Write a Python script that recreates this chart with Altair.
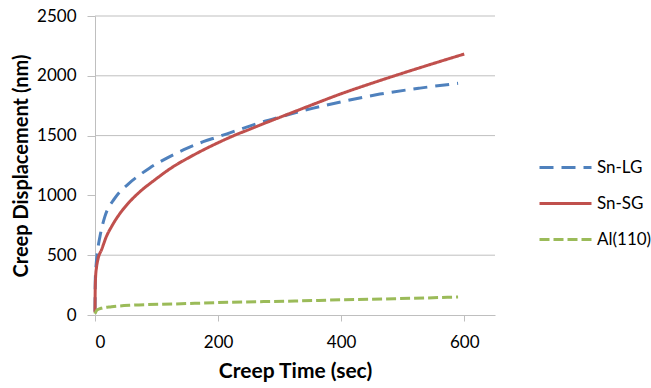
import altair as alt
import pandas as pd

# --- data ---
series_names = ["Sn-LG", "Sn-SG", "Al(110)"]
series_colors = ["#4F81BD", "#C0504D", "#9BBB59"]

t_lg = [0, 0.5, 2, 4, 8, 16, 32, 54, 75, 89, 116, 150, 176, 200, 219, 263, 300, 355, 409, 463, 528, 590]
v_lg = [30, 300, 430, 530, 655, 822, 975, 1095, 1180, 1230, 1310, 1395, 1449, 1490, 1523, 1600, 1655, 1730, 1792, 1847, 1897, 1937]

t_sg = [0, 0.3, 1, 2.5, 5, 11, 18, 27, 40, 54, 73, 97, 127, 154, 181, 204, 228, 250, 279, 300, 333, 355, 400, 450, 500, 550, 600]
v_sg = [20, 200, 320, 400, 470, 550, 650, 740, 845, 934, 1031, 1129, 1240, 1320, 1393, 1450, 1505, 1550, 1610, 1652, 1718, 1762, 1850, 1938, 2022, 2103, 2182]

t_al = [0, 3, 10, 27, 60, 127, 216, 325, 406, 486, 590]
v_al = [10, 40, 56, 69, 82, 92, 106, 117, 128, 136, 150]

y_ticks = [0, 500, 1000, 1500, 2000, 2500]
y_grid = [500, 1500, 2000, 2500]
x_ticks = [0, 200, 400, 600]

rows = []
for name, ts, vs in [("Sn-LG", t_lg, v_lg), ("Sn-SG", t_sg, v_sg), ("Al(110)", t_al, v_al)]:
    for i, (t, v) in enumerate(zip(ts, vs)):
        rows.append({"series": name, "t": t, "v": v, "order": i})
df = pd.DataFrame(rows)
grid_df = pd.DataFrame({"v": y_grid})

FONT = "Lato"
GRID = "#BFBFBF"

x_scale = alt.Scale(domain=[0, 650], nice=False, zero=False)
y_scale = alt.Scale(domain=[0, 2500], nice=False)

y_axis = alt.Axis(values=y_ticks, format="d", title="Creep Displacement (nm)", grid=False,
                  tickSize=8, labelPadding=11, titlePadding=5, titleFontSize=20)

grid = alt.Chart(grid_df).mark_rule(color=GRID, strokeWidth=1).encode(
    y=alt.Y("v:Q", scale=y_scale, axis=y_axis),
    x=alt.datum(0, scale=x_scale),
    x2=alt.datum(650),
)

lines = alt.Chart(df).mark_line(strokeWidth=3, interpolate="monotone").encode(
    x=alt.X("t:Q", scale=x_scale,
            axis=alt.Axis(values=x_ticks, format="d", title="Creep Time (sec)", grid=False,
                          tickSize=6, labelPadding=13, titlePadding=10)),
    y=alt.Y("v:Q", scale=y_scale, axis=y_axis),
    color=alt.Color("series:N", scale=alt.Scale(domain=series_names, range=series_colors),
                    legend=alt.Legend(title=None, orient="none", legendX=443, legendY=124,
                                      symbolType="stroke", symbolSize=2704,
                                      symbolStrokeWidth=3, rowPadding=-15,
                                      labelFont=FONT, labelFontSize=17, labelOffset=4,
                                      labelColor="#000000")),
    strokeDash=alt.StrokeDash("series:N",
                              scale=alt.Scale(domain=series_names, range=[[14, 8], [1, 0], [10, 4]]),
                              legend=alt.Legend(title=None)),
    order="order:Q",
)

chart = alt.layer(grid, lines).properties(
    width=400, height=299,
    autosize=alt.AutoSizeParams(type="none"),
    padding={"left": 95, "top": 16, "right": 156, "bottom": 73},
).configure_view(stroke=None).configure_axis(
    domainColor=GRID, tickColor=GRID, domainWidth=1,
    labelFont=FONT, labelFontSize=17, labelColor="#000000",
    titleFont=FONT, titleFontSize=21, titleFontWeight="bold", titleColor="#000000",
)

chart.save("out.html", embed_options={"renderer": "svg", "actions": False})
